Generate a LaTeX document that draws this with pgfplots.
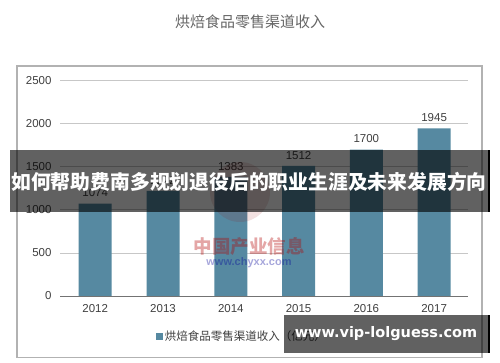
\documentclass[border=0pt]{standalone}
\usepackage{pgfplots}
\pgfplotsset{compat=1.18}
\usepackage{fontspec}
\setmainfont{Liberation Sans}
\newfontfamily\cjk{Noto Sans CJK SC}
\newfontfamily\dvs{DejaVu Sans}
\definecolor{barc}{HTML}{5689A1}
\definecolor{txt}{HTML}{404040}
\begin{document}
\begin{tikzpicture}[x=1bp,y=1bp]
\fill[white] (0,0) rectangle (500,362);
\draw[color=black!30, line width=1.2bp] (17,362-66) rectangle (482,362-357.5);
\node[font=\cjk\fontsize{15bp}{18bp}\selectfont, text=black!60] at (250,362-22) {烘焙食品零售渠道收入};
\begin{axis}[at={(60bp,66bp)}, anchor=south west, scale only axis,
  width=408bp, height=215.3bp,
  xmin=-0.52, xmax=5.5, ymin=0, ymax=2500,
  ytick={0,500,1000,1500,2000,2500},
  xtick={0,1,2,3,4,5}, xticklabels={2012,2013,2014,2015,2016,2017},
  axis line style={draw=none}, tick style={draw=none},
  ymajorgrids, major grid style={black!22, line width=0.8bp},
  /pgf/number format/assume math mode=true,
  /pgf/number format/1000 sep={},
  ticklabel style={font=\fontsize{11.5bp}{13bp}\selectfont, text=txt},
  yticklabel style={xshift=-5bp},
  xticklabel style={yshift=-5bp},
  legend style={at={(0.446,-0.186)}, anchor=center, draw=none, fill=none,
    font=\cjk\fontsize{11.5bp}{13bp}\selectfont, text=txt},
  legend image code/.code={\fill[barc] (0bp,-3.5bp) rectangle (7bp,3.5bp);},
  clip=false]
\addplot[ybar, fill=barc, draw=none, bar width=33bp,
  nodes near coords,
  nodes near coords style={font=\fontsize{11.5bp}{13bp}\selectfont, text=txt, yshift=3bp},
  point meta=y] coordinates {(0,1074) (1,1222) (2,1383) (3,1512) (4,1700) (5,1945)};
\addlegendentry{烘焙食品零售渠道收入（亿元）}
\draw[black!55, line width=0.9bp] (axis cs:-0.52,0) -- (axis cs:5.5,0);
\end{axis}
% faint watermark
\fill[red!60!black, opacity=0.12] (240,362-192) circle (30);
\node[text=red!70!black, opacity=0.35, font=\cjk\bfseries\fontsize{18.5bp}{20bp}\selectfont] at (249,362-247) {中国产业信息};
\node[text=blue!60!black, opacity=0.35, font=\bfseries\fontsize{11bp}{13bp}\selectfont] at (249,362-263) {www.chyxx.com};
% banner
\fill[black, opacity=0.62] (10,362-150) rectangle (488,362-212);
\fill[black] (487.5,362-150) rectangle (490,362-212);
\node[text=white, font=\cjk\bfseries\fontsize{19.8bp}{24bp}\selectfont] at (249,362-182) {如何帮助费南多规划退役后的职业生涯及未来发展方向};
% bottom right watermark
\fill[black, opacity=0.62] (284,362-315) rectangle (488,362-353);
\fill[black] (487.5,362-315) rectangle (490,362-353);
\node[text=white, font=\dvs\bfseries\fontsize{14.5bp}{17bp}\selectfont] at (386,362-334) {www.vip-lolguess.com};
\end{tikzpicture}
\end{document}
